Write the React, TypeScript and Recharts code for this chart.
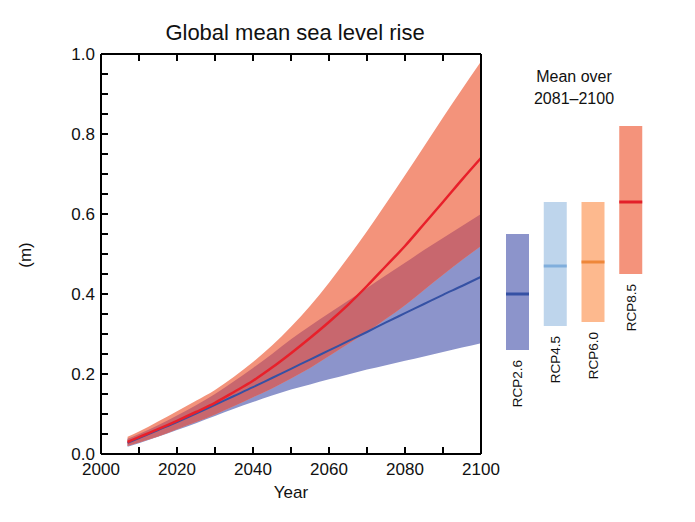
import { ComposedChart, Area, Line, XAxis, YAxis, BarChart, Bar } from 'recharts';

const YEARS = [2007, 2010, 2015, 2020, 2025, 2030, 2035, 2040, 2045, 2050, 2055, 2060, 2065, 2070, 2075, 2080, 2085, 2090, 2095, 2100];
const RCP85_MEAN = [0.030, 0.042, 0.062, 0.083, 0.105, 0.128, 0.155, 0.183, 0.216, 0.252, 0.290, 0.330, 0.373, 0.420, 0.470, 0.520, 0.575, 0.630, 0.686, 0.740];
const RCP85_HIGH = [0.043, 0.056, 0.081, 0.107, 0.133, 0.160, 0.193, 0.230, 0.271, 0.318, 0.370, 0.428, 0.491, 0.557, 0.626, 0.697, 0.769, 0.841, 0.912, 0.981];
const RCP85_LOW = [0.020, 0.029, 0.044, 0.062, 0.080, 0.099, 0.120, 0.142, 0.164, 0.189, 0.215, 0.245, 0.275, 0.305, 0.338, 0.372, 0.410, 0.448, 0.485, 0.520];
const RCP26_MEAN = [0.028, 0.040, 0.060, 0.080, 0.101, 0.123, 0.145, 0.167, 0.190, 0.213, 0.236, 0.259, 0.282, 0.305, 0.329, 0.352, 0.375, 0.398, 0.420, 0.443];
const RCP26_HIGH = [0.038, 0.050, 0.072, 0.096, 0.122, 0.150, 0.182, 0.215, 0.250, 0.287, 0.320, 0.352, 0.383, 0.415, 0.447, 0.478, 0.510, 0.540, 0.570, 0.600];
const RCP26_LOW = [0.018, 0.027, 0.043, 0.060, 0.077, 0.095, 0.113, 0.130, 0.146, 0.161, 0.174, 0.187, 0.199, 0.211, 0.222, 0.233, 0.244, 0.255, 0.266, 0.277];

// mean over 2081-2100
const SCENARIOS = ['RCP2.6', 'RCP4.5', 'RCP6.0', 'RCP8.5'];
const SCEN_LOW = [0.26, 0.32, 0.33, 0.45];
const SCEN_HIGH = [0.55, 0.63, 0.63, 0.82];
const SCEN_MEAN = [0.40, 0.47, 0.48, 0.63];

const X_TICKS = [2000, 2010, 2020, 2030, 2040, 2050, 2060, 2070, 2080, 2090, 2100];
const Y_TICKS = [0, 0.05, 0.1, 0.15, 0.2, 0.25, 0.3, 0.35, 0.4, 0.45, 0.5, 0.55, 0.6, 0.65, 0.7, 0.75, 0.8, 0.85, 0.9, 0.95, 1];

const FONT = '"Liberation Sans", Arial, Helvetica, sans-serif';
const BLUE_BAND = '#8c94cb';
const RED_BAND = '#f3937b';
const OVERLAP = '#c8676e';
const BAR_FILL = ['#8c94cb', '#bed5ec', '#fdb98e', '#f4937b'];
const BAR_LINE = ['#3551a4', '#80aedc', '#ee873a', '#e3202a'];

const TICK = 7;

const rows = YEARS.map((year, i) => ({
  year,
  blueBand: [RCP26_LOW[i], RCP26_HIGH[i]],
  redBand: [RCP85_LOW[i], RCP85_HIGH[i]],
  overlap: [Math.max(RCP26_LOW[i], RCP85_LOW[i]), Math.min(RCP26_HIGH[i], RCP85_HIGH[i])],
  blueMean: RCP26_MEAN[i],
  redMean: RCP85_MEAN[i],
}));

const bars = SCENARIOS.map((name, i) => ({
  name,
  range: [SCEN_LOW[i], SCEN_HIGH[i]],
  mean: SCEN_MEAN[i],
}));

const isMajorY = (v: number) => Math.abs(v * 5 - Math.round(v * 5)) < 1e-6;
const yLabel = (v: number) => (isMajorY(v) ? v.toFixed(1) : '');
const xLabel = (v: number) => (v % 20 === 0 ? String(v) : '');
const noLabel = () => '';

const RangeBar = (props: any) => {
  const { x, y, width, height, index, payload } = props;
  const top = Math.min(y, y + height);
  const h = Math.abs(height);
  const [lo, hi] = payload.range;
  const my = top + (h * (hi - payload.mean)) / (hi - lo);
  return (
    <g>
      <rect x={x} y={top} width={width} height={h} fill={BAR_FILL[index]} />
      <line x1={x} x2={x + width} y1={my} y2={my} stroke={BAR_LINE[index]} strokeWidth={3} />
      <text
        transform={`translate(${x + width / 2}, ${top + h + 10}) rotate(-90)`}
        textAnchor="end"
        dy="0.36em"
        fontSize={13.5}
        fill="#111"
        fontFamily={FONT}
      >
        {payload.name}
      </text>
    </g>
  );
};

const frame = { stroke: '#000', strokeWidth: 2 };
const tickLine = { stroke: '#000', strokeWidth: 2 };
const labelStyle = { fontSize: 17, fill: '#111', fontFamily: FONT };

export default function App() {
  return (
    <div style={{ position: 'absolute', left: 0, top: 0, width: 695, height: 522, background: '#fff', fontFamily: FONT, color: '#111' }}>
      <div style={{ position: 'absolute', left: 0, width: 590, top: 22, textAlign: 'center', fontSize: 22, lineHeight: '22px' }}>
        Global mean sea level rise
      </div>
      <div style={{ position: 'absolute', left: 191, width: 200, top: 484, textAlign: 'center', fontSize: 17, lineHeight: '17px' }}>
        Year
      </div>
      <div
        style={{
          position: 'absolute',
          left: 26 - 30,
          top: 255 - 9,
          width: 60,
          textAlign: 'center',
          fontSize: 17,
          lineHeight: '18px',
          transform: 'rotate(-90deg)',
        }}
      >
        (m)
      </div>
      <div style={{ position: 'absolute', left: 514, width: 120, top: 66, textAlign: 'center', fontSize: 16, lineHeight: '22px' }}>
        Mean over
        <br />
        2081–2100
      </div>

      <div style={{ position: 'absolute', left: 0, top: 0 }}>
        <ComposedChart width={500} height={522} data={rows} margin={{ top: 53, right: 18, bottom: 38, left: 41 }}>
          <Area xAxisId="b" yAxisId="l" type="monotone" dataKey="blueBand" stroke="none" fill={BLUE_BAND} fillOpacity={1} isAnimationActive={false} />
          <Area xAxisId="b" yAxisId="l" type="monotone" dataKey="redBand" stroke="none" fill={RED_BAND} fillOpacity={1} isAnimationActive={false} />
          <Area xAxisId="b" yAxisId="l" type="monotone" dataKey="overlap" stroke="none" fill={OVERLAP} fillOpacity={1} isAnimationActive={false} />
          <Line xAxisId="b" yAxisId="l" type="monotone" dataKey="blueMean" stroke="#3551a4" strokeWidth={2} dot={false} isAnimationActive={false} />
          <Line xAxisId="b" yAxisId="l" type="monotone" dataKey="redMean" stroke="#e8202a" strokeWidth={2.5} dot={false} isAnimationActive={false} />
          <XAxis
            xAxisId="b"
            dataKey="year"
            type="number"
            domain={[2000, 2100]}
            ticks={X_TICKS}
            interval={0}
            height={30}
            tickSize={-TICK}
            tickMargin={TICK + 9}
            tickLine={tickLine}
            axisLine={frame}
            tick={labelStyle}
            tickFormatter={xLabel}
          />
          <XAxis
            xAxisId="t"
            orientation="top"
            dataKey="year"
            type="number"
            domain={[2000, 2100]}
            ticks={X_TICKS}
            interval={0}
            height={1}
            tickSize={-TICK}
            tickMargin={0}
            tickLine={tickLine}
            axisLine={frame}
            tick={labelStyle}
            tickFormatter={noLabel}
          />
          <YAxis
            yAxisId="l"
            domain={[0, 1]}
            ticks={Y_TICKS}
            interval={0}
            width={60}
            tickSize={-TICK}
            tickMargin={TICK + 6}
            tickLine={tickLine}
            axisLine={frame}
            tick={labelStyle}
            tickFormatter={yLabel}
          />
          <YAxis
            yAxisId="r"
            orientation="right"
            domain={[0, 1]}
            ticks={Y_TICKS}
            interval={0}
            width={1}
            tickSize={-TICK}
            tickMargin={0}
            tickLine={tickLine}
            axisLine={frame}
            tick={labelStyle}
            tickFormatter={noLabel}
          />
        </ComposedChart>
      </div>

      <div style={{ position: 'absolute', left: 499, top: 0 }}>
        <BarChart width={151} height={522} data={bars} margin={{ top: 54, right: 0, bottom: 68, left: 0 }}>
          <XAxis dataKey="name" hide />
          <YAxis domain={[0, 1]} hide />
          <Bar dataKey="range" barSize={23} shape={RangeBar} isAnimationActive={false} />
        </BarChart>
      </div>
    </div>
  );
}
